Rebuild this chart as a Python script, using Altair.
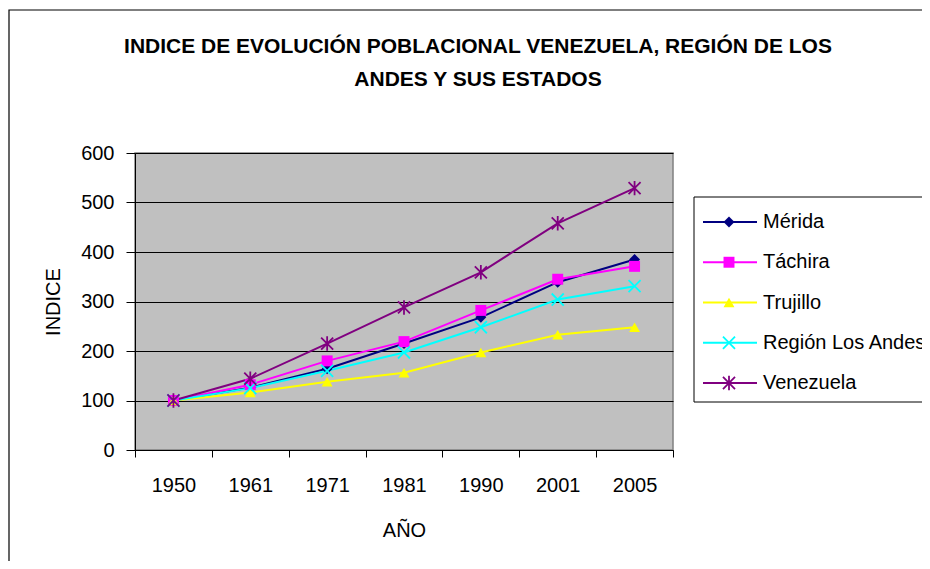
import altair as alt
import pandas as pd

# ---- data ----
years = ["1950", "1961", "1971", "1981", "1990", "2001", "2005"]
series = ["Mérida", "Táchira", "Trujillo", "Región Los Andes", "Venezuela"]
merida = [100, 126, 164, 215, 268, 339, 385]
tachira = [100, 132, 180, 219, 282, 345, 371]
trujillo = [100, 116, 138, 156, 197, 233, 248]
region = [100, 125, 160, 197, 248, 304, 331]
venezuela = [100, 144, 215, 288, 359, 458, 529]
y_ticks = [0, 100, 200, 300, 400, 500, 600]

colors = ["#000080", "#FF00FF", "#FFFF00", "#00FFFF", "#800080"]
X_PATH = "M-1,-1L1,1M1,-1L-1,1"
AST_PATH = "M-1,-1L1,1M1,-1L-1,1M0,-1.2L0,1.2"
shapes = ["diamond", "square", "triangle-up", X_PATH, AST_PATH]
filled_series = series[:3]
open_series = series[3:]

values = {"Mérida": merida, "Táchira": tachira, "Trujillo": trujillo,
          "Región Los Andes": region, "Venezuela": venezuela}
rows = []
for s in series:
    for yr, v in zip(years, values[s]):
        rows.append({"Serie": s, "Año": yr, "Indice": v})
df = pd.DataFrame(rows)
leg_df = pd.DataFrame({"Serie": series})
one = pd.DataFrame({"k": [0]})

FONT = "Liberation Sans, Arial, sans-serif"
W, H = 538, 297
FILLED_SIZE = 120
OPEN_SIZE = 145

color_scale = alt.Scale(domain=series, range=colors)
shape_scale = alt.Scale(domain=series, range=shapes)

x_enc = alt.X("Año:O", sort=years,
              scale=alt.Scale(type="band", domain=years, paddingInner=0, paddingOuter=0),
              axis=alt.Axis(title="AÑO", labelAngle=0, tickBand="extent", tickSize=7,
                            labelPadding=18, labelFontSize=20, titleFontSize=20,
                            titleFontWeight="normal", titleY=80, titleBaseline="middle",
                            domainColor="black", tickColor="black", grid=False,
                            labelFont=FONT, titleFont=FONT, labelColor="black",
                            titleColor="black"))
y_enc = alt.Y("Indice:Q", scale=alt.Scale(domain=[0, 600], nice=False, zero=True),
              axis=alt.Axis(title="INDICE", values=y_ticks, tickSize=9, labelPadding=12,
                            labelFontSize=20, titleFontSize=20, titleFontWeight="normal",
                            titleX=-82, titleY=H / 2, titleBaseline="middle",
                            titleAngle=-90,
                            domainColor="black", tickColor="black", grid=True,
                            gridColor="black", gridWidth=1, labelFont=FONT,
                            titleFont=FONT, labelColor="black", titleColor="black"))

base = alt.Chart(df)

lines = base.mark_line(strokeWidth=2).encode(
    x=x_enc, y=y_enc,
    color=alt.Color("Serie:N", scale=color_scale, legend=None),
    detail="Serie:N",
)
pts_filled = base.transform_filter(
    alt.FieldOneOfPredicate(field="Serie", oneOf=filled_series)
).mark_point(filled=True, size=FILLED_SIZE, opacity=1).encode(
    x=alt.X("Año:O", sort=years), y="Indice:Q",
    color=alt.Color("Serie:N", scale=color_scale, legend=None),
    shape=alt.Shape("Serie:N", scale=shape_scale, legend=None),
)
pts_open = base.transform_filter(
    alt.FieldOneOfPredicate(field="Serie", oneOf=open_series)
).mark_point(filled=False, size=OPEN_SIZE, strokeWidth=1.8, opacity=1).encode(
    x=alt.X("Año:O", sort=years), y="Indice:Q",
    color=alt.Color("Serie:N", scale=color_scale, legend=None),
    shape=alt.Shape("Serie:N", scale=shape_scale, legend=None),
)
main = alt.layer(lines, pts_filled, pts_open)

# ---- frame, title ----
border = alt.Chart(one).mark_rect(fillOpacity=0, stroke="black", strokeWidth=1.2).encode(
    x=alt.value(-126), x2=alt.value(900), y=alt.value(-143), y2=alt.value(500))
title1 = alt.Chart(one).mark_text(font=FONT, fontSize=21, fontWeight="bold",
                                   align="center", baseline="alphabetic", color="black").encode(
    x=alt.value(343), y=alt.value(-100),
    text=alt.value("INDICE DE EVOLUCIÓN POBLACIONAL VENEZUELA, REGIÓN DE LOS"))
title2 = alt.Chart(one).mark_text(font=FONT, fontSize=21, fontWeight="bold",
                                   align="center", baseline="alphabetic", color="black").encode(
    x=alt.value(343), y=alt.value(-67),
    text=alt.value("ANDES Y SUS ESTADOS"))

# ---- legend ----
leg_y = alt.Y("Serie:N", sort=series,
              scale=alt.Scale(type="point", domain=series, range=[69, 230], padding=0),
              axis=None)
leg_box = alt.Chart(one).mark_rect(fill="white", stroke="black", strokeWidth=1).encode(
    x=alt.value(559), x2=alt.value(820), y=alt.value(44), y2=alt.value(249))
leg_lines = alt.Chart(leg_df).mark_rule(strokeWidth=2).encode(
    x=alt.value(568), x2=alt.value(622), y=leg_y,
    color=alt.Color("Serie:N", scale=color_scale, legend=None))
leg_pf = alt.Chart(leg_df).transform_filter(
    alt.FieldOneOfPredicate(field="Serie", oneOf=filled_series)
).mark_point(filled=True, size=FILLED_SIZE, opacity=1).encode(
    x=alt.value(594), y=leg_y,
    color=alt.Color("Serie:N", scale=color_scale, legend=None),
    shape=alt.Shape("Serie:N", scale=shape_scale, legend=None))
leg_po = alt.Chart(leg_df).transform_filter(
    alt.FieldOneOfPredicate(field="Serie", oneOf=open_series)
).mark_point(filled=False, size=OPEN_SIZE, strokeWidth=1.8, opacity=1).encode(
    x=alt.value(594), y=leg_y,
    color=alt.Color("Serie:N", scale=color_scale, legend=None),
    shape=alt.Shape("Serie:N", scale=shape_scale, legend=None))
leg_text = alt.Chart(leg_df).mark_text(font=FONT, fontSize=20, align="left",
                                        baseline="middle", color="black").encode(
    x=alt.value(628), y=leg_y, text="Serie:N")
legend = alt.layer(leg_lines, leg_pf, leg_po, leg_text)

chart = alt.layer(
    border, title1, title2,
    main,
    leg_box, legend,
).resolve_scale(y="independent").properties(
    width=W, height=H,
    autosize=alt.AutoSizeParams(type="none"),
    padding={"left": 127, "top": 145, "right": 249, "bottom": 111},
    background="white",
).configure_view(
    fill="#C0C0C0", stroke="#808080", strokeWidth=1.5
)

chart.save("out.html", embed_options={"renderer": "svg", "actions": False})
